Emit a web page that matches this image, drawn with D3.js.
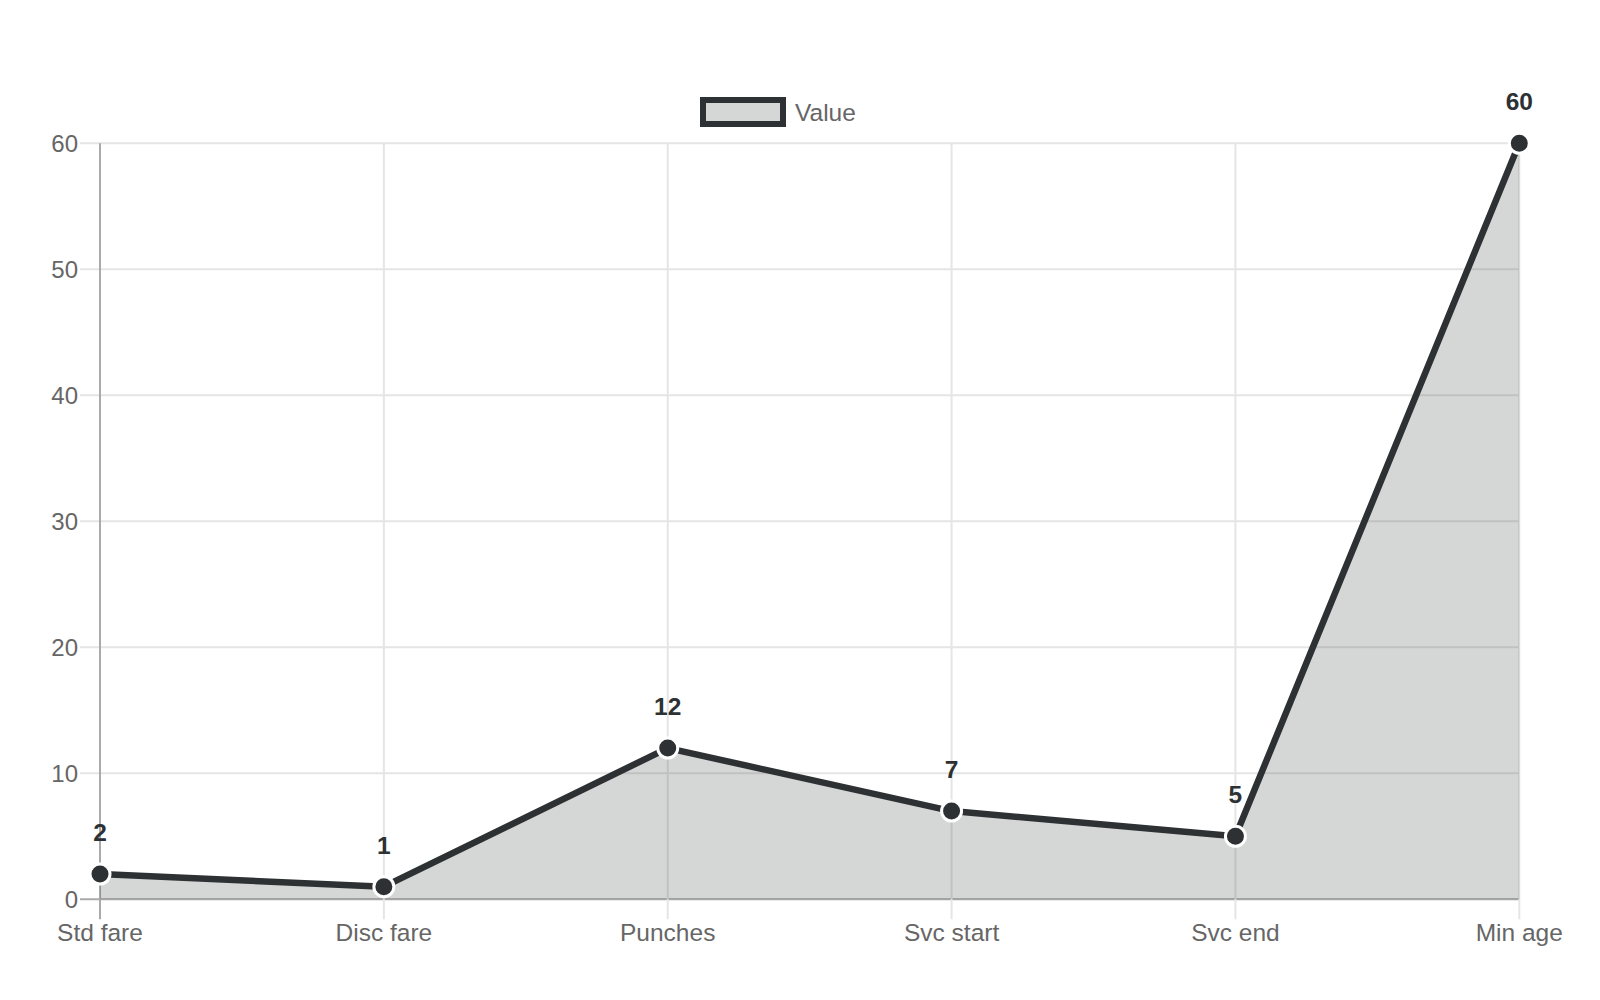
<!DOCTYPE html>
<html>
<head>
<meta charset="UTF-8">
<title>Value chart</title>
<style>
  body { margin: 0; background: #fff; font-family: "Liberation Sans", Arial, sans-serif; }
  svg { display: block; }
</style>
</head>
<body>
<svg></svg>
<script src="https://cdn.jsdelivr.net/npm/d3@7"></script>
<script>
// data
const categories = ["Std fare", "Disc fare", "Punches", "Svc start", "Svc end", "Min age"];
const values = [2, 1, 12, 7, 5, 60];
const yTicks = [0, 10, 20, 30, 40, 50, 60];
const seriesName = "Value";

const width = 1600, height = 1000;
const margin = {left: 100, right: 80.7, top: 143.3, bottom: 100.7};

const lineColor = "#2d3133";
const fillColor = "rgba(45,49,51,0.2)";

let svg = d3.select("svg").attr("width", width).attr("height", height);

let x = d3.scalePoint()
    .domain(categories)
    .range([margin.left, width - margin.right]);

let y = d3.scaleLinear()
    .domain([0, 60])
    .range([height - margin.bottom, margin.top]);

// grid
let grid = svg.append("g");
grid.selectAll(".hg").data(yTicks).enter().append("line")
    .attr("x1", margin.left - 20).attr("x2", width - margin.right)
    .attr("y1", d => y(d)).attr("y2", d => y(d))
    .attr("stroke", d => d === 0 ? "#aaa" : "#e5e5e5")
    .attr("stroke-width", 2);
grid.selectAll(".vg").data(categories).enter().append("line")
    .attr("x1", d => x(d)).attr("x2", d => x(d))
    .attr("y1", margin.top).attr("y2", height - margin.bottom + 20)
    .attr("stroke", (d, i) => i === 0 ? "#aaa" : "#e5e5e5")
    .attr("stroke-width", 2);

// tick labels
svg.append("g").selectAll("text").data(yTicks).enter().append("text")
    .attr("x", margin.left - 22)
    .attr("y", d => y(d))
    .attr("dy", "0.35em")
    .attr("text-anchor", "end")
    .attr("font-size", 24)
    .attr("fill", "#666")
    .text(d => d);

svg.append("g").selectAll("text").data(categories).enter().append("text")
    .attr("x", d => x(d))
    .attr("y", height - margin.bottom + 42)
    .attr("text-anchor", "middle")
    .attr("font-size", 24.5)
    .attr("fill", "#666")
    .text(d => d);

// area + line
let pts = categories.map((c, i) => ({c: c, v: values[i]}));

let area = d3.area()
    .x(d => x(d.c))
    .y0(y(0))
    .y1(d => y(d.v));

let line = d3.line()
    .x(d => x(d.c))
    .y(d => y(d.v));

svg.append("path").datum(pts)
    .attr("d", area)
    .attr("fill", fillColor);

svg.append("path").datum(pts)
    .attr("d", line)
    .attr("fill", "none")
    .attr("stroke", lineColor)
    .attr("stroke-width", 6.5)
    .attr("stroke-linejoin", "round");

svg.append("g").selectAll("circle").data(pts).enter().append("circle")
    .attr("cx", d => x(d.c))
    .attr("cy", d => y(d.v))
    .attr("r", 10)
    .attr("fill", lineColor)
    .attr("stroke", "#fff")
    .attr("stroke-width", 3);

// data labels
svg.append("g").selectAll("text").data(pts).enter().append("text")
    .attr("x", d => x(d.c))
    .attr("y", d => y(d.v) - 33)
    .attr("text-anchor", "middle")
    .attr("font-size", 24.5)
    .attr("font-weight", "bold")
    .attr("fill", lineColor)
    .text(d => d.v);

// legend
let lg = svg.append("g");
lg.append("rect")
    .attr("x", 703).attr("y", 100)
    .attr("width", 80).attr("height", 24)
    .attr("fill", "#d5d7d6")
    .attr("stroke", lineColor)
    .attr("stroke-width", 6);
lg.append("text")
    .attr("x", 795).attr("y", 112)
    .attr("dy", "0.35em")
    .attr("font-size", 24.5)
    .attr("fill", "#666")
    .text(seriesName);
</script>
</body>
</html>
